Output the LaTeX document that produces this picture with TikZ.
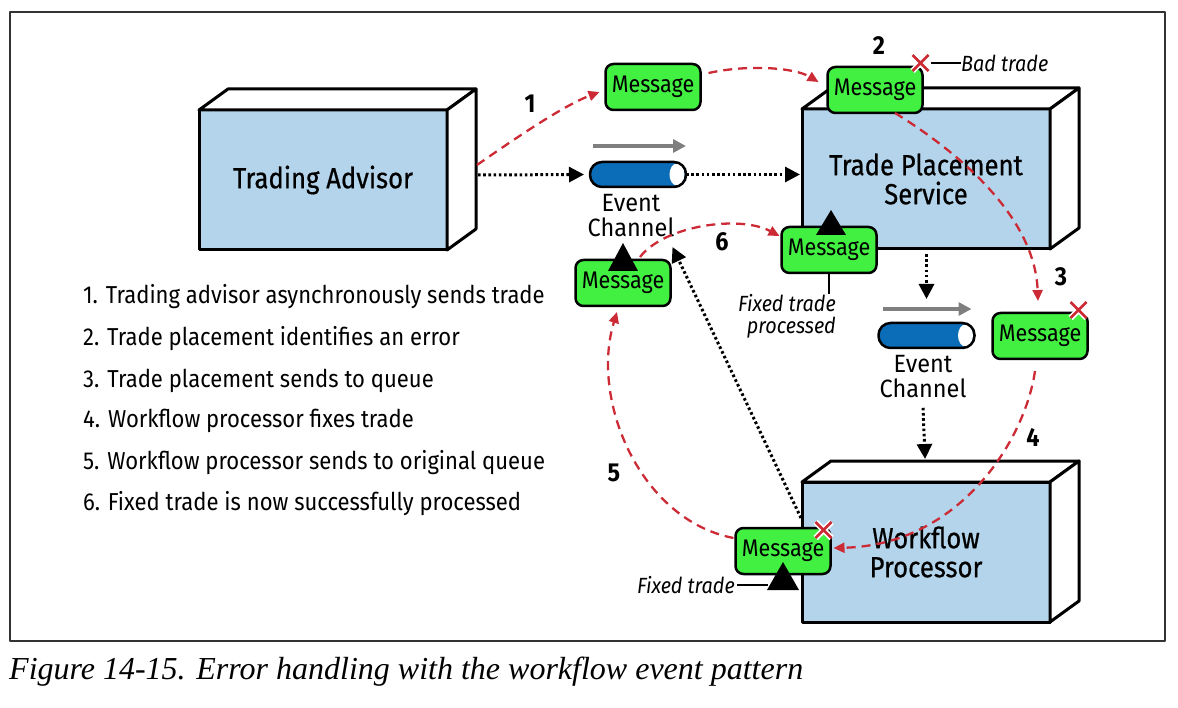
\documentclass[tikz,border=0pt]{standalone}
\usepackage{fontspec}
\setmainfont{Fira Sans}[FakeStretch=0.9]
\newfontfamily\boxfont{Fira Sans}[FakeStretch=0.885,FakeBold=0.6]
\newfontfamily\chanfont{Fira Sans}[FakeStretch=0.94]
\newfontfamily\capfont{Liberation Serif}
\usetikzlibrary{arrows.meta,calc}
\definecolor{boxblue}{HTML}{B3D4EA}
\definecolor{msggreen}{HTML}{42F042}
\definecolor{arrred}{HTML}{CC2B36}
\definecolor{chblue}{HTML}{0B6DB8}
\definecolor{arrgrey}{HTML}{7F7F7F}
\tikzset{
  box/.style={draw, line width=3pt, fill=boxblue, minimum width=248pt, minimum height=140pt,
    inner sep=0pt, outer sep=0pt, align=center, font=\boxfont\fontsize{29}{29}\selectfont},
  face/.style={draw, line width=3pt, fill=white, line join=round},
  msg/.style={draw, line width=2.5pt, fill=msggreen, rounded corners=8pt, minimum width=95pt,
    minimum height=46pt, inner sep=0pt, outer sep=0pt, font=\fontsize{24}{26}\selectfont},
  chan/.style={draw, line width=2.5pt, fill=chblue, rounded corners=12pt, minimum width=96pt,
    minimum height=25pt, inner sep=0pt, outer sep=0pt,
    path picture={\fill[white] ($(path picture bounding box.east)+(-9,0)$) ellipse [x radius=7.5pt, y radius=11pt];}},
  dotarrow/.style={line width=3pt, dash pattern=on 2.6pt off 2.6pt, -{Triangle[length=15pt,width=15pt]}},
  redarrow/.style={arrred, line width=2.3pt, dash pattern=on 9pt off 6pt, -{Triangle[length=11pt,width=10pt]}},
  greyarrow/.style={arrgrey, line width=3.5pt, -{Triangle[length=13pt,width=13pt]}},
  num/.style={font=\bfseries\fontsize{26}{28}\selectfont},
  lbl/.style={font=\chanfont\fontsize{25}{25}\selectfont, align=center},
  listitem/.style={font=\fontsize{24.5}{26}\selectfont, anchor=west, inner sep=0pt},
  itl/.style={font=\itshape\fontsize{22}{22}\selectfont, inner sep=0pt},
  tri/.style={fill=black},
}
\newcommand\redcross[1]{%
  \draw[white, line width=6pt] ($(#1)+(-8,-8)$) -- ($(#1)+(8,8)$) ($(#1)+(-8,8)$) -- ($(#1)+(8,-8)$);
  \draw[arrred, line width=2.5pt] ($(#1)+(-8,-8)$) -- ($(#1)+(8,8)$) ($(#1)+(-8,8)$) -- ($(#1)+(8,-8)$);}
\begin{document}
\begin{tikzpicture}[x=1pt, y=-1pt, line join=round]
\path[use as bounding box] (0,0) rectangle (1178,708);
\draw[line width=1.5pt, black!80] (10,12) rectangle (1165,641);

% boxes
\node[box] (ta) at (323,180) {Trading Advisor};
\draw[face] (ta.north west) -- ++(29,-21) -- ($(ta.north east)+(29,-21)$) -- (ta.north east) -- cycle;
\draw[face] (ta.north east) -- ++(29,-21) -- ($(ta.south east)+(29,-21)$) -- (ta.south east) -- cycle;

\node[box] (tps) at (926,179) {Trade Placement\\Service};
\draw[face] (tps.north west) -- ++(29,-21) -- ($(tps.north east)+(29,-21)$) -- (tps.north east) -- cycle;
\draw[face] (tps.north east) -- ++(29,-21) -- ($(tps.south east)+(29,-21)$) -- (tps.south east) -- cycle;

\node[box] (wp) at (926,552) {Workflow\\Processor};
\draw[face] (wp.north west) -- ++(29,-21) -- ($(wp.north east)+(29,-21)$) -- (wp.north east) -- cycle;
\draw[face] (wp.north east) -- ++(29,-21) -- ($(wp.south east)+(29,-21)$) -- (wp.south east) -- cycle;

% event channels
\node[chan] (ec1) at (638,174.5) {};
\node[lbl] (ec1l) at (631,216) {Event\\Channel};
\draw[greyarrow] ($(ec1.north west)+(3,-16)$) -- ($(ec1.north east)+(0,-16)$);
\node[chan] (ec2) at (926.5,335.5) {};
\node[lbl] (ec2l) at (923,377) {Event\\Channel};
\draw[greyarrow] ($(ec2.north west)+(4,-14)$) -- ($(ec2.north east)+(-3,-14)$);

% dotted flows
\draw[dotarrow, shorten >=6pt] ($(ta.east)+(31,-5)$) -- (ec1.west);
\draw[dotarrow, shorten >=2pt] (ec1.east) -- (ec1.east -| tps.west);
\draw[dotarrow, shorten >=24pt] ($(tps.south -| ec2.north)+(0,5)$) -- (ec2.north);
\draw[dotarrow, shorten >=23pt] ($(ec2l.south)+(0,6)$) -- (wp.north);

% messages
\node[msg] (m1) at (653,87) {Message};
\node[msg] (m2) at (875,90) {Message};
\node[msg] (m3) at (1040,336) {Message};
\node[msg] (mf) at (829,250) {Message};
\node[msg] (ml) at (623,283) {Message};
\node[msg] (mw) at (783,551) {Message};

% triangles
\fill[tri] ($(ml.north)+(0,-17)$) -- ($(ml.north)+(-15,11)$) -- ($(ml.north)+(15,11)$) -- cycle;
\fill[tri] ($(mf.north)+(2,-17)$) -- ($(mf.north)+(-13,8)$) -- ($(mf.north)+(17,8)$) -- cycle;
\fill[tri] ($(mw.south)+(0,-12)$) -- ($(mw.south)+(-16,16)$) -- ($(mw.south)+(16,16)$) -- cycle;

% dotted return
\coordinate (wpin) at ($(wp.north west)+(-1,36)$);
\draw[dotarrow] (wpin) -- ($(ml.north east)+(2,-13)$);

% red flows
\draw[redarrow] ($(ta.east)+(30,-15)$) .. controls (520,135) and (565,105) .. ($(m1.west)+(-6,5)$);
\draw[redarrow] ($(m1.east)+(8,-14)$) .. controls (750,64) and (795,68) .. ($(m2.west)+(-9,-8)$);
\draw[redarrow] ($(m2.south)+(20,0)$) .. controls (955,150) and (1035,215) .. ($(m3.north)+(-2,-12)$);
\draw[redarrow] ($(m3.south)+(-5,12)$) .. controls (1025,440) and (960,545) .. ($(mw.east)+(3,-3)$);
\draw[redarrow] ($(mw.north west)+(-2,10)$) .. controls (640,520) and (590,400) .. ($(ml.south)+(-6,6)$);
\draw[redarrow] ($(ml.north)+(17,-3)$) .. controls (665,225) and (740,215) .. ($(mf.west)+(-2,-14)$);

% crosses
\coordinate (x2) at ($(m2.north east)+(-2,-4)$);
\coordinate (x3) at ($(m3.north east)+(-9,-3)$);
\coordinate (xw) at ($(mw.north east)+(-7,2)$);
\redcross{x2}
\redcross{x3}
\redcross{xw}

% notes
\node[itl, anchor=west] (bt) at (961,63) {Bad trade};
\draw[line width=1.2pt] ($(x2)+(10,0)$) -- (bt.west);
\node[itl, anchor=north east, align=right] (ftp) at (836,294) {Fixed trade\\processed};
\draw[line width=1.2pt] (mf.south) -- (mf.south |- ftp.north);
\node[itl, anchor=east] (ft) at (735,585) {Fixed trade};
\draw[line width=1.2pt] ($(ft.east)+(2,0)$) -- ++(31,0);

% step numbers
\node[num] (n1) at (530,104) {1};
\node[num] (n2) at (879,46) {2};
\node[num] (n3) at (1061,277) {3};
\node[num] (n4) at (1033,437) {4};
\node[num] (n5) at (614,473) {5};
\node[num] (n6) at (722,242) {6};

% legend
\node[listitem] (l1) at (83,297) {1. Trading advisor asynchronously sends trade};
\node[listitem] (l2) at (83,339) {2. Trade placement identifies an error};
\node[listitem] (l3) at (83,381) {3. Trade placement sends to queue};
\node[listitem] (l4) at (83,421) {4. Workflow processor fixes trade};
\node[listitem] (l5) at (83,463) {5. Workflow processor sends to original queue};
\node[listitem] (l6) at (83,504) {6. Fixed trade is now successfully processed};

% caption
\node[anchor=west, inner sep=0pt, font=\capfont\itshape\fontsize{32}{34}\selectfont] (cap) at (9,672) {Figure 14-15. Error handling with the workflow event pattern};
\end{tikzpicture}
\end{document}
